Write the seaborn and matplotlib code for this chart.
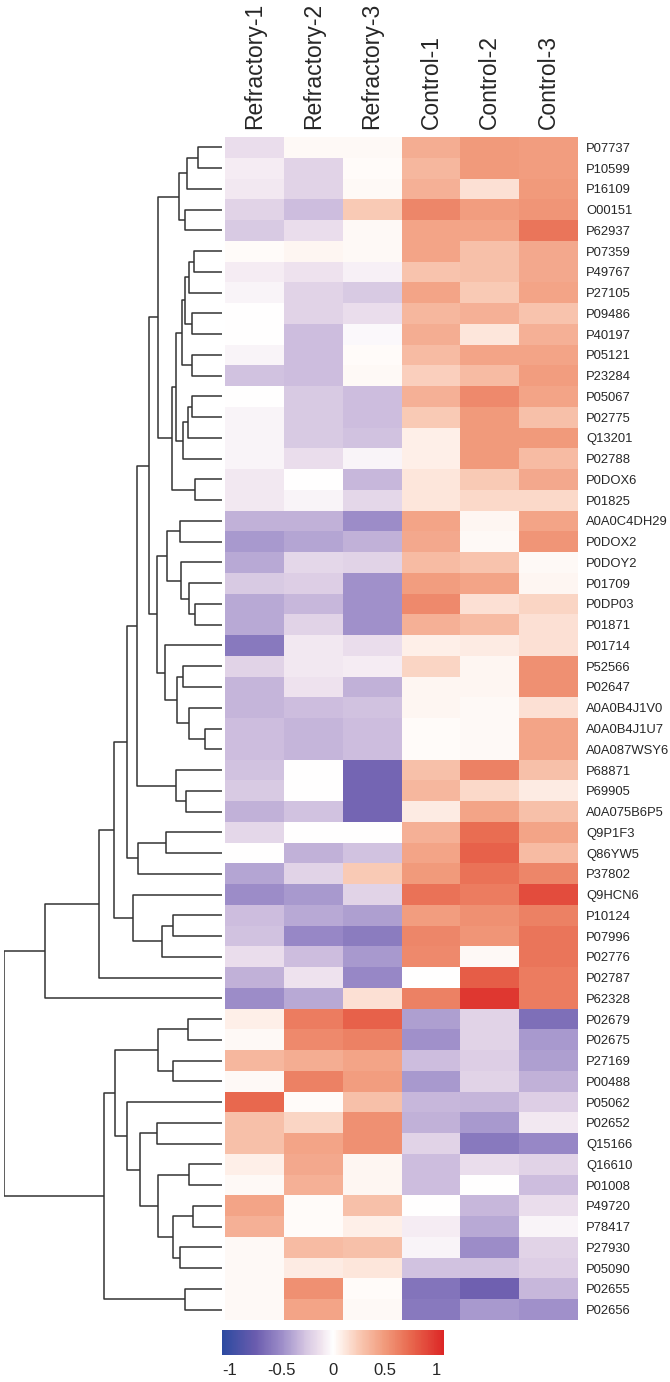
import matplotlib as mpl
mpl.use("Agg")
import matplotlib.pyplot as plt
import seaborn as sns
import numpy as np
import pandas as pd
from matplotlib.colors import LinearSegmentedColormap

sns.set_style("white")
plt.rcParams["font.family"] = ["Liberation Sans", "DejaVu Sans"]

samples = ["Refractory-1", "Refractory-2", "Refractory-3",
           "Control-1", "Control-2", "Control-3"]

proteins = [
    "P07737", "P10599", "P16109", "O00151", "P62937", "P07359", "P49767",
    "P27105", "P09486", "P40197", "P05121", "P23284", "P05067", "P02775",
    "Q13201", "P02788", "P0DOX6", "P01825", "A0A0C4DH29", "P0DOX2", "P0DOY2",
    "P01709", "P0DP03", "P01871", "P01714", "P52566", "P02647", "A0A0B4J1V0",
    "A0A0B4J1U7", "A0A087WSY6", "P68871", "P69905", "A0A075B6P5", "Q9P1F3",
    "Q86YW5", "P37802", "Q9HCN6", "P10124", "P07996", "P02776", "P02787",
    "P62328", "P02679", "P02675", "P27169", "P00488", "P05062", "P02652",
    "Q15166", "Q16610", "P01008", "P49720", "P78417", "P27930", "P05090",
    "P02655", "P02656",
]

refractory_1 = [-0.15, -0.08, -0.10, -0.20, -0.25, 0.02, -0.08, -0.05, 0.00, 0.00,
                -0.05, -0.28, 0.00, -0.05, -0.05, -0.05, -0.10, -0.10, -0.35, -0.45,
                -0.38, -0.25, -0.38, -0.38, -0.60, -0.20, -0.33, -0.33, -0.30, -0.30,
                -0.28, -0.25, -0.35, -0.18, 0.00, -0.40, -0.50, -0.30, -0.28, -0.15,
                -0.35, -0.50, 0.08, 0.03, 0.35, 0.03, 0.75, 0.30, 0.30, 0.08,
                0.03, 0.45, 0.38, 0.03, 0.03, 0.03, 0.03]
refractory_2 = [0.03, -0.20, -0.20, -0.30, -0.15, 0.05, -0.12, -0.20, -0.20, -0.30,
                -0.30, -0.30, -0.25, -0.25, -0.25, -0.15, 0.00, -0.05, -0.35, -0.40,
                -0.18, -0.22, -0.32, -0.20, -0.10, -0.10, -0.12, -0.30, -0.33, -0.33,
                0.00, 0.00, -0.28, 0.00, -0.35, -0.20, -0.45, -0.38, -0.52, -0.30,
                -0.12, -0.38, 0.65, 0.58, 0.40, 0.62, 0.02, 0.20, 0.45, 0.42,
                0.38, 0.02, 0.02, 0.32, 0.10, 0.55, 0.45]
refractory_3 = [0.03, 0.02, 0.03, 0.25, 0.03, 0.03, -0.06, -0.25, -0.15, -0.03,
                0.02, 0.03, -0.30, -0.30, -0.28, -0.05, -0.32, -0.18, -0.50, -0.35,
                -0.20, -0.48, -0.48, -0.48, -0.15, -0.08, -0.35, -0.28, -0.30, -0.30,
                -0.70, -0.70, -0.70, 0.00, -0.28, 0.25, -0.20, -0.42, -0.58, -0.45,
                -0.52, 0.15, 0.78, 0.62, 0.45, 0.48, 0.30, 0.55, 0.55, 0.05,
                0.05, 0.30, 0.08, 0.30, 0.12, 0.02, 0.03]
control_1 = [0.40, 0.35, 0.38, 0.60, 0.45, 0.45, 0.28, 0.45, 0.35, 0.40,
             0.32, 0.22, 0.38, 0.25, 0.08, 0.08, 0.12, 0.12, 0.45, 0.42,
             0.32, 0.48, 0.58, 0.38, 0.08, 0.20, 0.05, 0.05, 0.02, 0.02,
             0.30, 0.35, 0.10, 0.38, 0.45, 0.50, 0.70, 0.48, 0.60, 0.58,
             0.00, 0.62, -0.42, -0.48, -0.30, -0.45, -0.32, -0.35, -0.20, -0.30,
             -0.30, 0.00, -0.08, -0.05, -0.28, -0.62, -0.60]
control_2 = [0.50, 0.50, 0.15, 0.48, 0.45, 0.30, 0.30, 0.25, 0.38, 0.12,
             0.45, 0.32, 0.58, 0.50, 0.50, 0.50, 0.25, 0.18, 0.05, 0.03,
             0.28, 0.45, 0.15, 0.32, 0.10, 0.05, 0.05, 0.03, 0.03, 0.03,
             0.62, 0.18, 0.45, 0.72, 0.78, 0.70, 0.65, 0.55, 0.52, 0.03,
             0.80, 0.98, -0.20, -0.20, -0.22, -0.20, -0.33, -0.45, -0.60, -0.15,
             0.00, -0.32, -0.38, -0.50, -0.28, -0.72, -0.45]
control_3 = [0.48, 0.48, 0.50, 0.52, 0.68, 0.42, 0.42, 0.45, 0.28, 0.38,
             0.45, 0.48, 0.45, 0.30, 0.50, 0.32, 0.42, 0.18, 0.45, 0.52,
             0.03, 0.05, 0.20, 0.15, 0.15, 0.55, 0.55, 0.15, 0.45, 0.45,
             0.30, 0.10, 0.30, 0.45, 0.32, 0.60, 0.88, 0.62, 0.68, 0.68,
             0.65, 0.65, -0.65, -0.45, -0.42, -0.35, -0.22, -0.10, -0.52, -0.20,
             -0.30, -0.15, -0.05, -0.20, -0.22, -0.32, -0.48]

# row clustering tree: (node, left, right, height); ints are row indices
row_merges = [
    ("n01", 0, 1, 23.7), ("n012", "n01", 2, 34.7), ("n34", 3, 4, 37.0),
    ("nA", "n012", "n34", 43.0),
    ("n56", 5, 6, 27.7), ("n567", "n56", 7, 32.7), ("n89", 8, 9, 29.7),
    ("n5_9", "n567", "n89", 36.7), ("n10_11", 10, 11, 30.3),
    ("n5_11", "n5_9", "n10_11", 40.3),
    ("n12_13", 12, 13, 29.7), ("n12_14", "n12_13", 14, 33.7),
    ("n12_15", "n12_14", 15, 39.3), ("n5_15", "n5_11", "n12_15", 46.3),
    ("n16_17", 16, 17, 27.0), ("nC", "n5_15", "n16_17", 50.3),
    ("nB", "nA", "nC", 63.7),
    ("n18_19", 18, 19, 42.0), ("n22_23", 22, 23, 27.0),
    ("n21_23", 21, "n22_23", 32.7), ("n20_23", 20, "n21_23", 41.0),
    ("nG", "n18_19", "n20_23", 55.3),
    ("n25_26", 25, 26, 39.3), ("n28_29", 28, 29, 17.0),
    ("n27_29", 27, "n28_29", 32.7), ("nI", "n25_26", "n27_29", 45.3),
    ("nH", 24, "nI", 57.0), ("nF", "nG", "nH", 64.7),
    ("nE", "nB", "nF", 72.7),
    ("n31_32", 31, 32, 36.3), ("nK", 30, "n31_32", 46.0),
    ("nJ", "nE", "nK", 84.7),
    ("n33_34", 33, 34, 56.0), ("nM", "n33_34", 35, 83.7),
    ("nL", "nJ", "nM", 95.3),
    ("n37_38", 37, 38, 48.7), ("nP", "n37_38", 39, 59.7),
    ("nO", 36, "nP", 88.7), ("nN", "nL", "nO", 108.0),
    ("nQ", "nN", 40, 123.0), ("nR", "nQ", 41, 177.0),
    ("n42_43", 42, 43, 33.7), ("n44_45", 44, 45, 49.3),
    ("n42_45", "n42_43", "n44_45", 63.7),
    ("n47_48", 47, 48, 65.3), ("n49_50", 49, 50, 32.7),
    ("n51_52", 51, 52, 29.3), ("n53_54", 53, 54, 42.0),
    ("n51_54", "n51_52", "n53_54", 48.7), ("n49_54", "n49_50", "n51_54", 63.7),
    ("n47_54", "n47_48", "n49_54", 82.0), ("n46_54", 46, "n47_54", 95.3),
    ("n42_54", "n42_45", "n46_54", 107.0),
    ("n55_56", 55, 56, 37.0), ("nS", "n42_54", "n55_56", 117.7),
    ("root", "nR", "nS", 217.7),
]

df = pd.DataFrame(
    np.array([refractory_1, refractory_2, refractory_3,
              control_1, control_2, control_3]).T,
    index=proteins, columns=samples,
)

cmap = LinearSegmentedColormap.from_list(
    "bwr_soft",
    [(0.0, "#2c4aa0"), (0.15, "#6a5cae"), (0.266, "#9c8cc8"),
     (0.383, "#d8c9e3"), (0.45, "#f1e5ef"), (0.5, "#ffffff"),
     (0.55, "#fde9e0"), (0.617, "#f9c9b4"),
     (0.734, "#f19a7b"), (0.85, "#e8684e"), (1.0, "#dc2626")],
)

W, H = 670, 1382
fig = plt.figure(figsize=(W / 100, H / 100), dpi=100)


def frac(x0, y0, x1, y1):
    return [x0 / W, 1 - y1 / H, (x1 - x0) / W, (y1 - y0) / H]


ax = fig.add_axes(frac(225, 137, 578, 1320))
ax_den = fig.add_axes(frac(4, 137, 222, 1320))
cax = fig.add_axes(frac(222, 1330, 444, 1355))

sns.heatmap(
    df, ax=ax, cmap=cmap, vmin=-1.07, vmax=1.07,
    xticklabels=samples, yticklabels=proteins,
    cbar_ax=cax,
    cbar_kws={"orientation": "horizontal", "ticks": [-1, -0.5, 0, 0.5, 1]},
)
ax.xaxis.tick_top()
ax.yaxis.tick_right()
ax.set_xlabel("")
ax.set_ylabel("")
ax.tick_params(axis="both", length=0)
ax.tick_params(axis="x", pad=6)
ax.tick_params(axis="y", pad=6)
ax.set_xticklabels(samples, rotation=90, fontsize=16.5)
ax.set_yticklabels(proteins, rotation=0, fontsize=9.4)

# colorbar
cax.set_xticklabels(["-1", "-0.5", "0", "0.5", "1"], fontsize=12)
cax.tick_params(axis="x", direction="in", color="white", length=4, width=1,
                top=True, pad=6)
for s in cax.spines.values():
    s.set_visible(False)

# dendrogram from the merge table
pos = {i: (i + 0.5, 0.0) for i in range(len(proteins))}
for name, a, b, h in row_merges:
    ya, ha = pos[a]
    yb, hb = pos[b]
    ax_den.plot([ha, h, h, hb], [ya, ya, yb, yb], color="#333333", lw=1.1,
                solid_capstyle="butt")
    pos[name] = ((ya + yb) / 2, h)
ax_den.set_ylim(len(proteins), 0)
ax_den.set_xlim(218, 0)
ax_den.axis("off")

fig.savefig("out.png", dpi=100, facecolor="white")
